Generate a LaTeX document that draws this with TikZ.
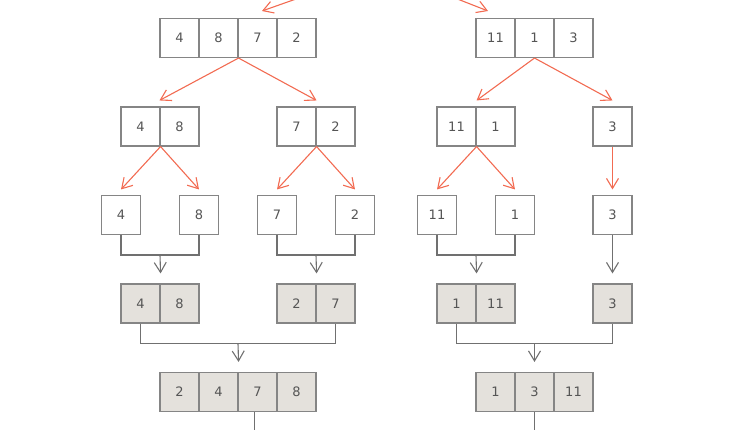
\documentclass[tikz,border=0pt]{standalone}
\usepackage{fontspec}
\setmainfont{DejaVu Sans}
\usetikzlibrary{arrows.meta,calc}
\definecolor{redc}{HTML}{F26B52}
\definecolor{linec}{HTML}{707070}
\definecolor{boxc}{HTML}{858585}
\definecolor{fillc}{HTML}{E4E1DC}
\definecolor{txtc}{HTML}{555555}
\tikzset{
  cell/.style={draw=boxc, line width=1.1pt, minimum width=39pt, minimum height=39pt,
    inner sep=0pt, text=txtc, font=\fontsize{13}{15}\selectfont, fill=white},
  sorted/.style={cell, fill=fillc},
  splitarrow/.style={draw=redc, line width=1.1pt, -{Straight Barb[length=10pt,width=12pt]}},
  mergeline/.style={draw=linec, line width=1.1pt},
  mergearrow/.style={mergeline, -{Straight Barb[length=10pt,width=12pt]}}
}
\begin{document}
\begin{tikzpicture}[x=1pt,y=-1pt]
\useasboundingbox (0,0) rectangle (750,430);
\clip (0,0) rectangle (750,430);
% row 1
\node[cell] (a1) at (179.5,38) {4};
\node[cell] (a2) at (218.5,38) {8};
\node[cell] (a3) at (257.5,38) {7};
\node[cell] (a4) at (296.5,38) {2};
\node[cell] (b1) at (495.5,38) {11};
\node[cell] (b2) at (534.5,38) {1};
\node[cell] (b3) at (573.5,38) {3};
% row 2
\node[cell] (c1) at (140.5,126.5) {4};
\node[cell] (c2) at (179.5,126.5) {8};
\node[cell] (d1) at (296.5,126.5) {7};
\node[cell] (d2) at (335.5,126.5) {2};
\node[cell] (e1) at (456.5,126.5) {11};
\node[cell] (e2) at (495.5,126.5) {1};
\node[cell] (f1) at (612.5,126.5) {3};
% row 3
\node[cell] (g4) at (121,215) {4};
\node[cell] (g8) at (199,215) {8};
\node[cell] (g7) at (277,215) {7};
\node[cell] (g2) at (355,215) {2};
\node[cell] (g11) at (437,215) {11};
\node[cell] (g1) at (515,215) {1};
\node[cell] (g3) at (612.5,215) {3};
% row 4
\node[sorted] (h1) at (140.5,303.5) {4};
\node[sorted] (h2) at (179.5,303.5) {8};
\node[sorted] (i1) at (296.5,303.5) {2};
\node[sorted] (i2) at (335.5,303.5) {7};
\node[sorted] (j1) at (456.5,303.5) {1};
\node[sorted] (j2) at (495.5,303.5) {11};
\node[sorted] (k1) at (612.5,303.5) {3};
% row 5
\node[sorted] (l1) at (179.5,392) {2};
\node[sorted] (l2) at (218.5,392) {4};
\node[sorted] (l3) at (257.5,392) {7};
\node[sorted] (l4) at (296.5,392) {8};
\node[sorted] (m1) at (495.5,392) {1};
\node[sorted] (m2) at (534.5,392) {3};
\node[sorted] (m3) at (573.5,392) {11};
% split arrows from the parent above
\coordinate (top) at (381,-31);
\coordinate (ltip) at (262,11);
\coordinate (rtip) at (488,11);
\draw[splitarrow] (top) -- (ltip);
\draw[splitarrow] (top) -- (rtip);
% split arrows
\draw[splitarrow] (a2.south east) -- ([yshift=6pt]c2.north west);
\draw[splitarrow] (a2.south east) -- ([yshift=6pt]d1.north east);
\draw[splitarrow] (b2.south) -- ([yshift=6pt]e1.north east);
\draw[splitarrow] (b2.south) -- ([yshift=6pt]f1.north);
\draw[splitarrow] (c1.south east) -- ([yshift=5.5pt]g4.north);
\draw[splitarrow] (c1.south east) -- ([yshift=5.5pt]g8.north);
\draw[splitarrow] (d1.south east) -- ([yshift=5.5pt]g7.north);
\draw[splitarrow] (d1.south east) -- ([yshift=5.5pt]g2.north);
\draw[splitarrow] (e1.south east) -- ([yshift=5.5pt]g11.north);
\draw[splitarrow] (e1.south east) -- ([yshift=5.5pt]g1.north);
\draw[splitarrow] (f1.south) -- ([yshift=5.5pt]g3.north);
% merge row 3 -> row 4
\draw[mergeline] (g4.south) -- ++(0,20) -| (g8.south);
\coordinate (mA) at ($(g4.south)!0.5!(g8.south)+(0,20)$);
\draw[mergearrow] (mA) -- ([yshift=10pt]h1.north east);
\draw[mergeline] (g7.south) -- ++(0,20) -| (g2.south);
\coordinate (mB) at ($(g7.south)!0.5!(g2.south)+(0,20)$);
\draw[mergearrow] (mB) -- ([yshift=10pt]i1.north east);
\draw[mergeline] (g11.south) -- ++(0,20) -| (g1.south);
\coordinate (mC) at ($(g11.south)!0.5!(g1.south)+(0,20)$);
\draw[mergearrow] (mC) -- ([yshift=10pt]j1.north east);
\draw[mergearrow] (g3.south) -- ([yshift=10pt]k1.north);
% merge row 4 -> row 5
\draw[mergeline] (h1.south) -- ++(0,20) -| (i2.south);
\coordinate (mD) at ($(h1.south)!0.5!(i2.south)+(0,20)$);
\draw[mergearrow] (mD) -- ([yshift=10pt]l2.north east);
\draw[mergeline] (j1.south) -- ++(0,20) -| (k1.south);
\coordinate (mE) at ($(j1.south)!0.5!(k1.south)+(0,20)$);
\draw[mergearrow] (mE) -- ([yshift=10pt]m2.north);
% lines toward the next merge
\draw[mergeline] ([xshift=-3pt]l3.south) -- ++(0,30);
\draw[mergeline] (m2.south) -- ++(0,30);
\end{tikzpicture}
\end{document}
